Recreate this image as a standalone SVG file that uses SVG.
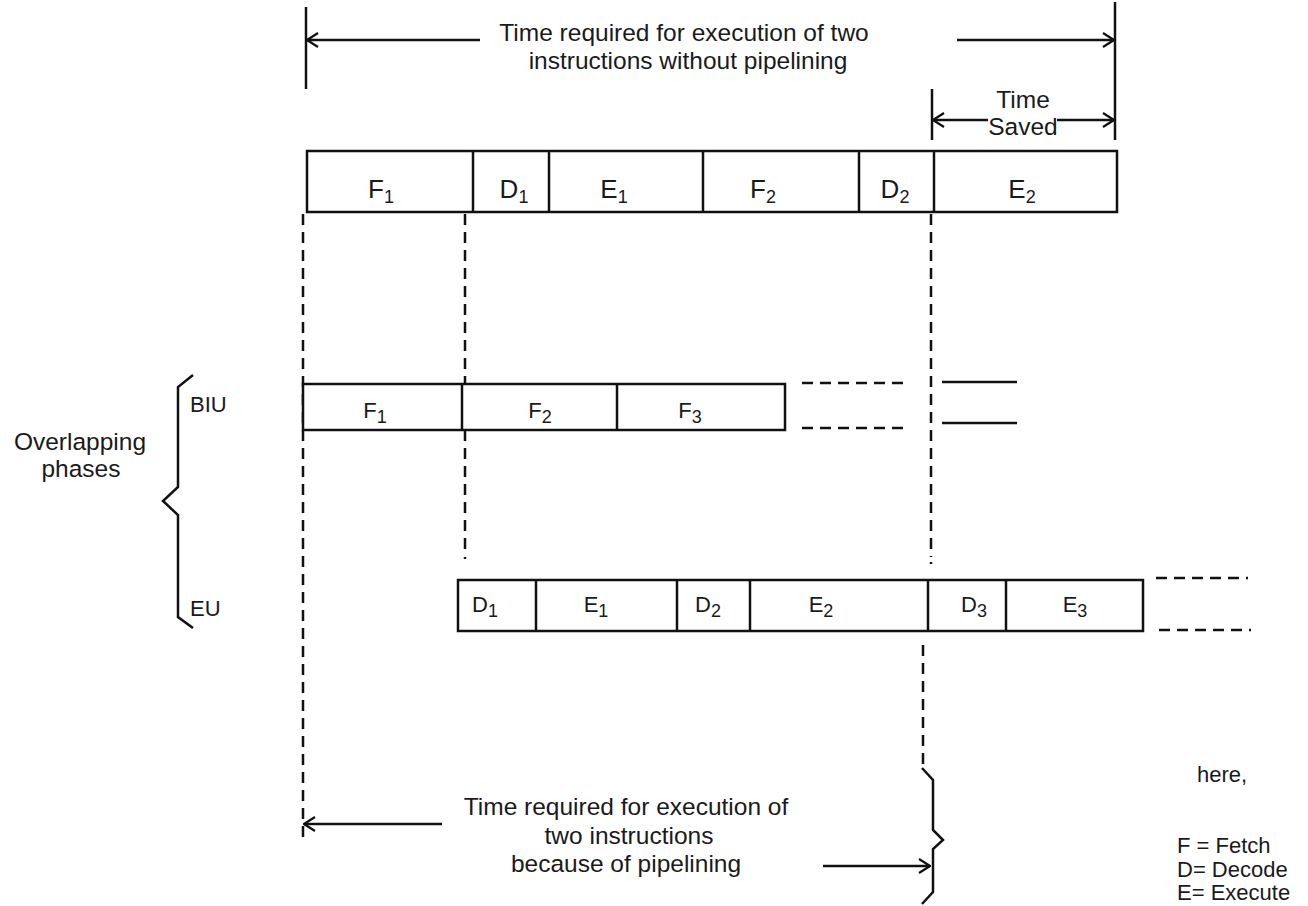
<svg xmlns="http://www.w3.org/2000/svg" width="1308" height="906" viewBox="0 0 1308 906">
<style>
text{font-family:"Liberation Sans",Arial,sans-serif;fill:#1a1a1a}
.t{font-size:24.5px}
.big{font-size:26px}
.sm{font-size:22px}
.sub{font-size:18px}
.box{fill:#fff;stroke:#111;stroke-width:2.5}
.ln{stroke:#111;stroke-width:2.5;fill:none}
.dash{stroke:#111;stroke-width:2.5;fill:none;stroke-dasharray:11 7}
</style>
<defs>
<marker id="arr" viewBox="0 0 14 16" refX="13" refY="8" markerWidth="14" markerHeight="16" markerUnits="userSpaceOnUse" orient="auto">
<path d="M2,1 L13,8 L2,15" fill="none" stroke="#111" stroke-width="2.2"/>
</marker>
</defs>
<rect width="1308" height="906" fill="#fff"/>

<g id="connectors">
<line class="ln" x1="306" y1="7" x2="306" y2="89"/>
<line class="ln" x1="1115" y1="2" x2="1115" y2="140"/>
<line class="ln" x1="480" y1="40" x2="307" y2="40" marker-end="url(#arr)"/>
<line class="ln" x1="957" y1="40" x2="1114" y2="40" marker-end="url(#arr)"/>
<line class="ln" x1="932" y1="89" x2="932" y2="140"/>
<line class="ln" x1="988" y1="120" x2="933" y2="120" marker-end="url(#arr)"/>
<line class="ln" x1="1057" y1="120" x2="1114" y2="120" marker-end="url(#arr)"/>
<line class="dash" x1="303" y1="214" x2="303" y2="838"/>
<line class="dash" x1="465" y1="214" x2="465" y2="553"/>
<line class="dash" x1="465" y1="557" x2="465" y2="559"/>
<line class="dash" x1="931" y1="214" x2="931" y2="557"/>
<line class="dash" x1="931" y1="562" x2="931" y2="564"/>
<line class="dash" x1="923" y1="645" x2="923" y2="768"/>
<line class="dash" x1="802" y1="383" x2="903" y2="383"/>
<line class="dash" x1="802" y1="428" x2="903" y2="428"/>
<line class="ln" x1="942" y1="382" x2="1017" y2="382"/>
<line class="ln" x1="942" y1="423" x2="1017" y2="423"/>
<line class="dash" x1="1156" y1="578" x2="1248" y2="578"/>
<line class="dash" x1="1159" y1="630" x2="1251" y2="630"/>
<line class="ln" x1="442" y1="824" x2="304" y2="824" marker-end="url(#arr)"/>
<line class="ln" x1="823" y1="866" x2="930" y2="866" marker-end="url(#arr)"/>
</g>

<g id="brace-left">
<path class="ln" d="M193,375 L178,387 L178,487 L163,501 L178,515 L178,617 L193,628"/>
</g>
<g id="brace-bottom">
<path class="ln" d="M922,768 L933,780 L933,830 L943,840 L933,849 L933,892 L922,904"/>
</g>

<g id="top-labels">
<text class="t" x="684" y="41" text-anchor="middle">Time required for execution of two</text>
<text class="t" x="688" y="69" text-anchor="middle">instructions without pipelining</text>
<text class="t" x="1023" y="108" text-anchor="middle">Time</text>
<text class="t" x="1023" y="135" text-anchor="middle">Saved</text>
</g>

<g id="sequential">
<rect class="box" x="307" y="151" width="810" height="61"/>
<line class="ln" x1="473" y1="151" x2="473" y2="212"/>
<line class="ln" x1="549" y1="151" x2="549" y2="212"/>
<line class="ln" x1="703" y1="151" x2="703" y2="212"/>
<line class="ln" x1="859" y1="151" x2="859" y2="212"/>
<line class="ln" x1="934" y1="151" x2="934" y2="212"/>
<text class="big" x="381" y="198" text-anchor="middle">F<tspan class="sub" dy="5">1</tspan></text>
<text class="big" x="514" y="198" text-anchor="middle">D<tspan class="sub" dy="5">1</tspan></text>
<text class="big" x="614" y="198" text-anchor="middle">E<tspan class="sub" dy="5">1</tspan></text>
<text class="big" x="763" y="198" text-anchor="middle">F<tspan class="sub" dy="5">2</tspan></text>
<text class="big" x="895" y="198" text-anchor="middle">D<tspan class="sub" dy="5">2</tspan></text>
<text class="big" x="1022" y="198" text-anchor="middle">E<tspan class="sub" dy="5">2</tspan></text>
</g>

<g id="biu">
<rect class="box" x="303" y="384" width="482" height="46"/>
<line class="ln" x1="462" y1="384" x2="462" y2="430"/>
<line class="ln" x1="617" y1="384" x2="617" y2="430"/>
<text class="sm" x="375" y="418" text-anchor="middle">F<tspan class="sub" dy="5">1</tspan></text>
<text class="sm" x="540" y="418" text-anchor="middle">F<tspan class="sub" dy="5">2</tspan></text>
<text class="sm" x="690" y="418" text-anchor="middle">F<tspan class="sub" dy="5">3</tspan></text>
</g>

<g id="eu">
<rect class="box" x="458" y="580" width="685" height="51"/>
<line class="ln" x1="536" y1="580" x2="536" y2="631"/>
<line class="ln" x1="677" y1="580" x2="677" y2="631"/>
<line class="ln" x1="750" y1="580" x2="750" y2="631"/>
<line class="ln" x1="928" y1="580" x2="928" y2="631"/>
<line class="ln" x1="1006" y1="580" x2="1006" y2="631"/>
<text class="sm" x="485" y="612" text-anchor="middle">D<tspan class="sub" dy="5">1</tspan></text>
<text class="sm" x="596" y="612" text-anchor="middle">E<tspan class="sub" dy="5">1</tspan></text>
<text class="sm" x="708" y="612" text-anchor="middle">D<tspan class="sub" dy="5">2</tspan></text>
<text class="sm" x="821" y="612" text-anchor="middle">E<tspan class="sub" dy="5">2</tspan></text>
<text class="sm" x="974" y="612" text-anchor="middle">D<tspan class="sub" dy="5">3</tspan></text>
<text class="sm" x="1075" y="612" text-anchor="middle">E<tspan class="sub" dy="5">3</tspan></text>
</g>

<g id="side-labels">
<text class="sm" x="190" y="412">BIU</text>
<text class="sm" x="190" y="616">EU</text>
<text class="t" x="80" y="450" text-anchor="middle">Overlapping</text>
<text class="t" x="81" y="477" text-anchor="middle">phases</text>
</g>

<g id="bottom-labels">
<text class="t" x="626" y="815" text-anchor="middle">Time required for execution of</text>
<text class="t" x="629" y="844" text-anchor="middle">two instructions</text>
<text class="t" x="626" y="872" text-anchor="middle">because of pipelining</text>
</g>

<g id="legend">
<text class="sm" x="1197" y="782">here,</text>
<text class="sm" x="1177" y="853">F = Fetch</text>
<text class="sm" x="1177" y="877">D= Decode</text>
<text class="sm" x="1177" y="900">E= Execute</text>
</g>
</svg>
